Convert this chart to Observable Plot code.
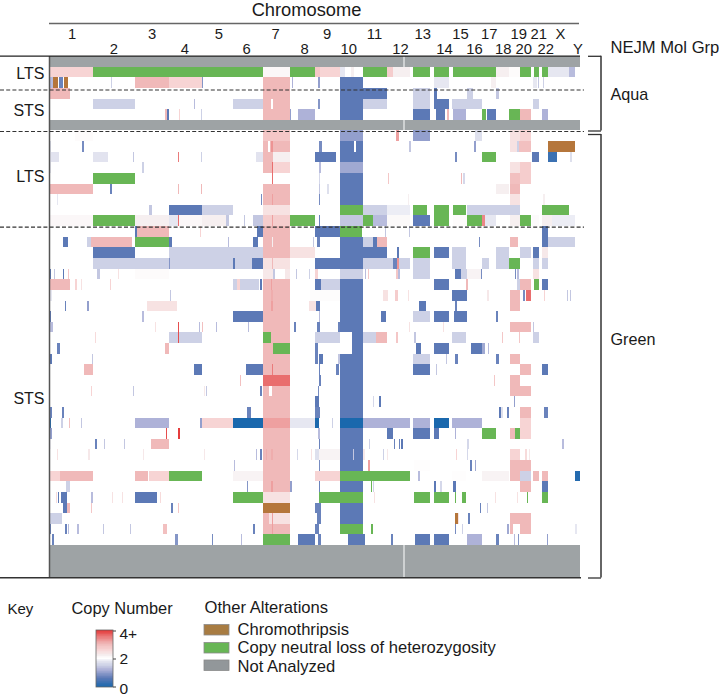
<!DOCTYPE html>
<html><head><meta charset="utf-8">
<script src="https://cdn.jsdelivr.net/npm/d3@7"></script>
<script src="https://cdn.jsdelivr.net/npm/@observablehq/plot@0.6"></script>
<style>html,body{margin:0;padding:0;background:#fff}svg{display:block}</style>
</head><body><div id="chart"></div>
<script>
// Copy number segments: [row, genome start, genome end, copy number]
const cnAquaLTS = [
[1,147,278,2.6],[1,946,960,2.8],[1,960,1020,2.6],[1,788,870,2.1],[1,1020,1035,1.8],[1,1052,1062,2.2],[1,1160,1178,2.7],[1,1178,1230,2.2],[1,1488,1528,2.2],[1,1528,1560,2.05],[1,1644,1708,1.8],[1,1708,1725,1.3],
[2,147,158,1.3],[2,177,190,0.7],[2,333,336,1.5],[2,405,507,3],[2,507,606,2.6],[2,606,610,0.9],[2,876,879,1.2],[2,953,959,1],[2,1302,1346,1.8],[2,1472,1488,2.2],[2,1598,1610,1.8],[2,1613,1616,1.4],[2,1628,1632,1.5]];
const cnAquaSTS = [
[3,147,210,3],[3,1089,1160,0.6],[3,1240,1290,1.5],[3,1302,1312,0.6],[3,1400,1418,1.5],[3,1488,1498,1.4],
[4,278,405,1.5],[4,583,586,1.3],[4,699,788,1.5],[4,813,818,2],[4,953,960,0.9],[4,1088,1160,1.5],[4,1240,1290,1.5],[4,1302,1348,0.6],[4,1356,1446,1.5],[4,1598,1618,1.5],
[5,495,500,3],[5,500,507,0.6],[5,536,540,2.6],[5,604,607,1.5],[5,870,873,1],[5,895,946,1.2],[5,1240,1290,0.6],[5,1308,1336,0.6],[5,1340,1348,3],[5,1358,1398,1.2],[5,1460,1488,0.6],[5,1560,1592,3],[5,1626,1644,1.2]];
const cnGreenLTS = [
[7,225,280,2.05],[7,1188,1196,3.2],[7,1240,1290,1],[7,1425,1445,1.7],[7,1530,1560,2.4],[7,1560,1592,2.6],
[8,150,154,1.7],[8,246,252,0.8],[8,803,810,2],[8,813,818,3.3],[8,956,965,0.8],[8,1062,1068,2],[8,1228,1232,1.4],[8,1422,1428,1],[8,1530,1552,2.4],[8,1552,1558,1.5],[8,1558,1592,2.9],
[9,147,176,1.75],[9,278,325,1.75],[9,399,402,1.4],[9,534,537,3.5],[9,603,606,1.5],[9,768,788,1.75],[9,788,818,3],[9,818,870,2.2],[9,946,1007,0.6],[9,1364,1370,0.8],[9,1597,1618,0.6],[9,1645,1672,0.3],[9,1710,1715,1.7],
[10,150,153,1.8],[10,426,431,1.5],[10,788,815,3],[10,815,818,3.6],[10,818,870,2.6],[10,957,962,1.3],[10,1530,1560,2.4],[10,1560,1592,2.7],
[11,815,818,3.6],[11,956,960,1.6],[11,1164,1167,2.8],[11,1383,1387,3],[11,1390,1394,1.6],[11,1530,1560,2.9],[11,1560,1592,2.7],
[12,147,278,3],[12,330,335,0.7],[12,534,537,3],[12,603,606,3],[12,956,960,1.4],[12,982,986,1.7],[12,1488,1528,2.2],[12,1530,1560,3],
[13,172,174,1.8],[13,783,787,0.8],[13,815,818,3.2],[13,956,961,0.8],[13,1225,1227,2.2],[13,1530,1560,2.4],[13,1630,1636,2.2],
[14,448,456,1.4],[14,507,606,0.6],[14,606,699,1.5],[14,1088,1160,1.5],[14,1160,1230,1.85],[14,1400,1560,1.5],
[15,147,278,2.1],[15,405,507,2.2],[15,507,534,1.8],[15,534,537,3.6],[15,537,606,2.1],[15,606,678,2.2],[15,678,686,1.4],[15,733,735,1.4],[15,760,788,1.4],[15,815,818,3.2],[15,956,960,0.7],[15,1120,1160,1.3],[15,1160,1230,2.08],[15,1240,1290,0.6],[15,1358,1400,2.05],[15,1446,1455,3.4],[15,1455,1488,1.8],[15,1530,1560,2.2],[15,1595,1618,2.06],[15,1626,1655,2.2],[15,1655,1725,1.85]];
const cnGreenSTS = [
[16,405,412,0.6],[16,412,507,3],[16,600,603,2.6],[16,770,788,0.6],[16,946,1020,0.6],[16,1155,1158,1.4],[16,1226,1230,1.4],[16,1626,1644,0.6],
[17,190,204,0.6],[17,262,272,1.5],[17,273,395,3],[17,507,516,0.6],[17,685,687,1.3],[17,759,773,0.6],[17,817,820,2.2],[17,940,943,1.4],[17,952,960,0.7],[17,1088,1118,1.5],[17,1120,1130,0.6],[17,1130,1160,3],[17,1438,1441,0.8],[17,1530,1555,3],[17,1626,1644,0.6],[17,1644,1725,1.5],
[18,278,405,0.6],[18,507,788,1.5],[18,870,946,2.4],[18,1089,1160,0.6],[18,1190,1198,0.6],[18,1302,1348,0.6],[18,1356,1398,1.5],[18,1488,1528,1.5],[18,1560,1592,1.5],[18,1598,1618,0.6],[18,1626,1644,2.3],
[19,278,507,1.5],[19,507,510,0.9],[19,510,699,1.5],[19,699,706,0.6],[19,706,756,1.5],[19,756,788,0.6],[19,815,818,3],[19,946,1090,0.6],[19,1090,1178,1.5],[19,1178,1192,0.7],[19,1192,1198,3.3],[19,1198,1230,1.5],[19,1240,1290,1.5],[19,1356,1398,1.5],[19,1446,1467,1.5],[19,1488,1528,1.5],[19,1598,1618,1.5],[19,1626,1644,1.5],
[20,147,154,0.6],[20,162,164,1.4],[20,188,191,0.6],[20,204,206,2.8],[20,290,300,1.4],[20,355,358,2.4],[20,405,507,2.05],[20,788,818,2.3],[20,818,825,1.4],[20,855,870,2.3],[20,888,892,1.4],[20,905,907,2.6],[20,928,930,1.5],[20,946,953,2.6],[20,1020,1090,1.5],[20,1094,1097,1.3],[20,1105,1108,2.8],[20,1188,1195,2.8],[20,1195,1200,1.3],[20,1240,1290,1.5],[20,1365,1383,0.6],[20,1383,1400,1.5],[20,1400,1443,2.15],[20,1443,1446,0.8],[20,1545,1548,0.8],[20,1552,1558,1.3],[20,1598,1618,2.4],
[21,147,210,3],[21,225,230,2.6],[21,243,245,2.4],[21,330,332,2.6],[21,699,712,1.5],[21,712,720,2.6],[21,720,778,1.5],[21,780,786,0.6],[21,813,817,3.2],[21,946,964,0.6],[21,964,1020,1.5],[21,1302,1348,0.6],[21,1398,1405,3],[21,1552,1560,1.5],[21,1560,1592,3],[21,1626,1644,0.6],
[22,150,157,1.8],[22,510,512,1.4],[22,813,818,3.1],[22,930,1020,2.04],[22,1150,1164,2.4],[22,1185,1193,2.7],[22,1225,1227,2.4],[22,1356,1400,0.6],[22,1460,1466,2.3],[22,1530,1560,3],[22,1570,1575,0.8],[22,1578,1592,3.6],[22,1633,1635,2.6],[22,1701,1704,1.4],[22,1710,1713,1.4],
[23,195,197,0.7],[23,262,266,1],[23,441,530,2.4],[23,813,818,3.2],[23,926,948,2.4],[23,948,960,0.6],[23,1256,1278,0.6],[23,1364,1370,0.7],[23,1530,1560,3],
[24,147,153,0.6],[24,426,431,1.3],[24,699,788,0.6],[24,958,960,1.3],[24,1142,1158,0.6],[24,1240,1290,1.5],[24,1302,1348,0.6],[24,1363,1400,0.6],[24,1488,1494,0.7],
[25,150,158,1.3],[25,466,468,2.4],[25,534,537,3.8],[25,598,600,1.3],[25,606,609,2.9],[25,648,650,1.3],[25,744,746,1.3],[25,883,887,0.7],[25,952,960,0.7],[25,1015,1020,0.7],[25,1228,1230,2.4],[25,1330,1332,2.4],[25,1530,1592,3],[25,1600,1602,1.4],
[26,285,287,2.5],[26,507,533,1.5],[26,533,537,3.8],[26,537,606,1.5],[26,946,1020,1.5],[26,1088,1127,1.5],[26,1127,1160,3],[26,1188,1194,2.8],[26,1242,1248,1.4],[26,1356,1398,1.5],[26,1506,1509,2.8],[26,1556,1560,2.8],[26,1598,1618,1.5],
[27,172,179,0.7],[27,495,507,3],[27,946,955,0.7],[27,1248,1262,0.6],[27,1302,1348,0.6],[27,1412,1446,0.6],[27,1446,1456,1.1],[27,1464,1467,1.3],
[28,147,155,0.6],[28,277,279,1.4],[28,946,955,0.7],[28,957,970,0.6],[28,1015,1020,1.4],[28,1240,1290,1.5],[28,1338,1340,1.4],[28,1364,1373,0.7],[28,1488,1496,0.7],[28,1530,1560,3],
[29,253,278,3],[29,583,606,0.6],[29,737,788,0.6],[29,815,818,3.5],[29,958,961,0.7],[29,1008,1017,0.7],[29,1240,1290,0.6],[29,1308,1310,1.4],[29,1560,1592,3],[29,1626,1644,0.6],
[30,720,724,2.9],[30,958,964,0.7],[30,1483,1486,2.8],[30,1530,1560,3],
[31,273,276,2.6],[31,400,403,1.4],[31,612,615,2.3],[31,618,621,1.4],[31,780,785,0.7],[31,955,957,0.8],[31,1530,1592,3],
[32,946,958,0.6],[32,1120,1122,1.6],[32,1137,1143,0.6],[32,1543,1546,1],
[33,150,155,0.7],[33,186,192,0.7],[33,742,752,0.7],[33,946,960,0.7],[33,1496,1504,0.6],[33,1504,1508,1.7],[33,1520,1528,0.7],[33,1560,1592,3],[33,1632,1644,0.7],
[34,147,154,0.1],[34,184,188,1.5],[34,207,209,2.9],[34,244,247,1.4],[34,405,507,1.2],[34,600,605,1],[34,606,699,2.6],[34,699,788,0],[34,870,946,1.8],[34,946,958,0],[34,997,1000,1.5],[34,1088,1230,1.2],[34,1240,1290,1.2],[34,1302,1347,0],[34,1356,1446,1.2],[34,1560,1592,2.6],
[35,147,155,1],[35,498,501,3.8],[35,535,539,3.9],[35,955,960,1.3],[35,1160,1180,0.6],[35,1240,1290,0.6],[35,1302,1317,0.6],[35,1365,1368,1.2],[35,1530,1545,3],[35,1560,1592,2.6],
[36,150,153,1.9],[36,167,169,2.2],[36,286,290,0.7],[36,312,314,1.4],[36,373,375,1.4],[36,453,507,3],[36,957,960,0.7],[36,1106,1109,1.5],[36,1183,1186,0.7],[36,1197,1200,0.7],[36,1203,1208,0.6],[36,1402,1406,1.6],[36,1686,1691,1.3],
[37,172,174,2.4],[37,265,269,2.3],[37,430,432,2.3],[37,613,615,2.3],[37,769,771,1.3],[37,780,785,0.7],[37,798,800,3.1],[37,812,818,3.1],[37,890,893,1.6],[37,933,935,2.4],[37,946,957,1.7],[37,957,1020,2.15],[37,1060,1062,1.4],[37,1090,1094,2.3],[37,1148,1151,1.5],[37,1162,1164,2.3],[37,1368,1371,2.6],[37,1400,1403,1.6],[37,1530,1560,2.6],[37,1576,1580,2.5],[37,1588,1590,2.3],
[38,702,704,1.3],[38,958,961,0.8],[38,1104,1109,3.2],[38,1242,1290,2.03],[38,1410,1416,0.7],[38,1425,1427,1.1],[38,1530,1592,3],
[39,147,180,2.6],[39,180,278,3],[39,405,443,3],[39,447,507,2.6],[39,699,788,2.15],[39,946,1020,2.6],[39,1255,1260,1.3],[39,1356,1398,2.03],[39,1446,1528,2.15],[39,1530,1560,3],[39,1560,1592,1.5],[39,1598,1618,3],[39,1626,1644,3],[39,1726,1740,0.1],
[40,198,210,1.5],[40,275,277,1.8],[40,530,532,1.4],[40,742,744,0.9],[40,813,818,3.2],[40,870,877,1],[40,957,960,0.7],[40,1118,1121,1.5],[40,1302,1309,0.6],[40,1320,1325,1.6],[40,1358,1369,0.6],[40,1560,1592,3],[40,1626,1644,0.6],
[41,168,170,2.5],[41,173,177,0.6],[41,182,200,0.6],[41,272,278,1.3],[41,337,339,2.4],[41,367,369,2.4],[41,405,472,0.6],[41,480,483,2.5],[41,788,870,2.4],[41,1122,1124,2.4],[41,1485,1487,2.4],[41,1552,1554,2.4],
[42,188,202,0.6],[42,202,209,3],[42,272,276,2.8],[42,512,518,0.7],[42,534,538,2.8],[42,946,963,0.7],[42,1440,1443,0.7],[42,1461,1464,1.4],
[43,147,186,1.5],[43,788,806,3],[43,806,870,2.4],[43,815,818,3.2],[43,950,963,0.7],[43,1374,1377,2.4],[43,1405,1411,0.7],[43,1530,1592,3],
[44,147,154,0.7],[44,196,200,0.7],[44,204,206,1.3],[44,232,236,1.3],[44,310,312,1.4],[44,390,392,1.4],[44,490,500,2.9],[44,760,764,0.7],[44,815,818,3.2],[44,946,958,0.7],[44,1364,1367,0.8],[44,1376,1378,1.5],[44,1386,1388,1.5],[44,1522,1526,1.1],[44,1530,1538,3],[44,1560,1592,3],[44,1726,1730,1.8],
[45,155,162,0.7],[45,525,533,0.9],[45,637,640,0.8],[45,724,726,1.3],[45,895,946,0.6],[45,954,962,0.7],[45,1044,1094,0.6],[45,1172,1178,0.7],[45,1246,1268,0.6],[45,1270,1290,0.6],[45,1302,1347,0.6],[45,1400,1446,1.2],[45,1488,1496,0.7],[45,1543,1546,1.3],[45,1554,1557,0.9],[45,1642,1644,1]];

// Recurrent whole-arm / whole-chromosome events: [row, copy number]
const chr7Span = [788, 870];
const chr7Gain = [[2,3],[3,3],[4,3],[5,3],[7,2.8],[8,3],[12,3],[13,3],[14,2.4],[15,2.7],[16,3],[17,3],[18,3],[19,2.4],[21,3],[22,3],[23,3],[24,3],[25,3],[28,3],[29,3],[30,3.6],[32,3],[33,3],[34,3.2],[35,3],[36,3],[37,3],[38,3],[39,3],[40,3],[44,3]];
const chr7Partial = [[26,813,870,3],[27,788,820,3],[31,788,806,3],[31,816,870,3]];
const chr10Span = [1020, 1089];
const chr10Loss = [[2,.6],[3,.6],[4,.6],[5,.6],[7,1],[8,.6],[9,.6],[10,1.1],[11,.6],[12,.6],[13,.6],[15,1.4],[17,.6],[18,.6],[21,.6],[22,.6],[23,.6],[24,.6],[25,.6],[28,.6],[29,.6],[30,.6],[31,.6],[32,.6],[33,.6],[34,0],[35,.6],[36,.6],[37,.6],[38,.6],[40,.6],[42,.6],[43,.6]];
const chr10Partial = [[26,1055,1089,.6],[27,1055,1089,.6]];

const cnloh = [
[1,278,788],[1,870,946],[1,1088,1160],[1,1240,1290],[1,1302,1348],[1,1358,1488],[1,1560,1592],[1,1601,1618],[1,1626,1644],
[5,1446,1458],[5,1528,1560],
[9,1446,1488],[11,278,405],
[14,1020,1089],[14,1240,1280],[14,1302,1348],[14,1358,1398],[14,1626,1708],
[15,278,405],[15,870,946],[15,1088,1120],[15,1302,1348],[15,1400,1446],[15,1560,1592],
[16,1020,1085],[17,405,507],[18,1240,1290],[19,1528,1560],[21,1601,1618],
[26,788,813],[27,820,870],[35,1446,1488],[35,1545,1560],
[39,507,606],[39,1020,1230],[40,1113,1116],
[41,699,788],[41,957,1088],[41,1242,1290],[41,1302,1347],[41,1365,1368],[41,1386,1398],[41,1580,1583],[41,1626,1644],
[44,1020,1090],[44,1113,1119],[45,788,870]];
const chromothripsis = [[2,160,175],[2,192,203],[8,1645,1725],[42,788,870],[43,1365,1374]];
const notAnalyzed = [[0,1],[6,7],[46,49]];
const paleStripe = [1210,1214];

const chromLabels = ["1","2","3","4","5","6","7","8","9","10","11","12","13","14","15","16","17","18","19","20","21","22","X","Y"];
const chromCenters = [215,340,455,553,655,738,825,912,980,1045,1122,1200,1267,1332,1380,1422,1466,1508,1555,1570,1615,1636,1680,1732];
const chromFontTier = [0,1,0,1,0,1,0,1,0,1,0,1,0,1,0,1,0,1,0,1,0,1,0,1];

const rowGroupLabels = [["LTS",73],["STS",110],["LTS",176],["STS",398]];
const cnLevels = [0,0.6,1.2,1.5,1.8,2,2.2,2.6,3,3.6,4];
const cnColors = ["#1a68ad","#5c79b6","#aeb2d8","#cdd1e6","#e6e7f1","#ffffff","#f6eff0","#f7d4d4","#f0b9b9","#e96e6e","#e32d2d"];
const COL = {chromo:"#b5763b", loh:"#68b655", na:"#9ea3a5"};

// helpers for annotation layout, through the plot's scales
const X = p => 147 + (p - 49) * 3;
const Y = p => (p - 56) * 49 / 521;

const toRect = a => a.map(([r,x1,x2,cn]) => ({r,x1,x2,cn}));
const segs = [
  ...chr7Gain.map(([r,cn]) => ({r,x1:chr7Span[0],x2:chr7Span[1],cn})),
  ...toRect(chr7Partial),
  ...chr10Loss.map(([r,cn]) => ({r,x1:chr10Span[0],x2:chr10Span[1],cn})),
  ...toRect(chr10Partial),
  ...toRect(cnAquaLTS), ...toRect(cnAquaSTS), ...toRect(cnGreenLTS), ...toRect(cnGreenSTS)
];
const crisp = {shapeRendering:"crispEdges"};
const solid = (arr, fill) => Plot.rect(toRect(arr), {x1:"x1", x2:"x2", y1:"r", y2:d=>d.r+1, fill, ...crisp});

const font = {fontFamily:"Liberation Sans, Arial, sans-serif"};
const txt = (t,px,py,size,anchor="start") => Plot.text([t], {x:X(px), y:Y(py), text:d=>d, fontSize:size, textAnchor:anchor, lineAnchor:"bottom", fill:"#1a1a1a", ...font});
const hline = (x1,x2,py,o={}) => Plot.ruleY([Y(py)], {x1:X(x1), x2:X(x2), stroke:"#333", strokeWidth:1.3, ...o});
const vline = (px,y1,y2,o={}) => Plot.ruleX([X(px)], {y1:Y(y1), y2:Y(y2), stroke:"#333", strokeWidth:1.5, ...o});

const cbarSteps = d3.range(0,4,0.05);
const swatch = (py,fill) => Plot.rect([0], {x1:X(204), x2:X(229), y1:Y(py), y2:Y(py+10.5), fill, stroke:"#8b8b8b", strokeWidth:.8});

const chart = Plot.plot({
  width:719, height:696, marginLeft:49, marginRight:139, marginTop:56, marginBottom:119,
  x:{domain:[147,1740], range:[49,580], axis:null},
  y:{domain:[0,49], range:[56,577], axis:null},
  color:{type:"linear", domain:cnLevels, range:cnColors},
  style:{background:"#fff", ...font},
  marks:[
    Plot.rect(segs, {x1:"x1", x2:"x2", y1:"r", y2:d=>d.r+1, fill:"cn", ...crisp}),
    solid(cnloh, COL.loh),
    solid(chromothripsis, COL.chromo),
    Plot.rect(notAnalyzed, {x1:147, x2:1740, y1:d=>d[0], y2:d=>d[1], fill:COL.na, ...crisp}),
    Plot.rect(notAnalyzed, {x1:paleStripe[0], x2:paleStripe[1], y1:d=>d[0], y2:d=>d[1], fill:"#ced1d2", ...crisp}),
    // frame lines
    vline(49,56,577,{stroke:"#555"}),
    hline(0,580,55.7,{stroke:"#222"}),
    hline(0,581,577.3,{stroke:"#333",strokeWidth:1.6}),
    hline(49,579,23,{stroke:"#666",strokeWidth:1.5}),
    ...[89.5,131,226.6].map(p => hline(0,584,p,{stroke:"#333",strokeWidth:1.2,strokeDasharray:"4,2.2"})),
    // brackets
    hline(588,601,55.8), vline(600.5,55.8,130.5), hline(588,601,130.5),
    hline(588,601,134), vline(600.5,134,577.5), hline(588,601,577.5),
    // chromosomes
    txt("Chromosome",306,15.5,18.3,"middle"),
    Plot.text(chromLabels, {x:(d,i)=>chromCenters[i], y:(d,i)=>Y(chromFontTier[i]?53:38), text:d=>d, fontSize:14.8, textAnchor:"middle", lineAnchor:"bottom", fill:"#1a1a1a", ...font}),
    txt("NEJM Mol Grp",610,52.5,16.6),
    txt("Aqua",610,99,16.2),
    txt("Green",610,344,16.2),
    ...rowGroupLabels.map(([t,p]) => txt(t,44,p+5.5,16,"end")),
    // key
    txt("Key",7,613,15),
    txt("Copy Number",71,613,16.4),
    txt("Other Alterations",204,612,16.6),
    Plot.rect(cbarSteps, {x1:X(96), x2:X(113), y1:d=>Y(687-(d+0.05)*57/4), y2:d=>Y(687-d*57/4), fill:d=>d, ...crisp}),
    Plot.rect([0], {x1:X(96), x2:X(113), y1:Y(630), y2:Y(687), fill:"none", stroke:"#666", strokeWidth:.8}),
    ...[630.5,658.5,686.5].map(p => hline(113,116,p,{stroke:"#444",strokeWidth:1})),
    txt("4+",119,638,15.5), txt("2",119,663,15.5), txt("0",119,693,15.5),
    swatch(624.5,"#a87c42"), swatch(642.5,COL.loh), swatch(660,"#92979a"),
    txt("Chromothripsis",237,634,16.6),
    txt("Copy neutral loss of heterozygosity",237,652.5,16.6),
    txt("Not Analyzed",237,671.5,16.6)
  ]
});
document.getElementById("chart").append(chart);
</script></body></html>
